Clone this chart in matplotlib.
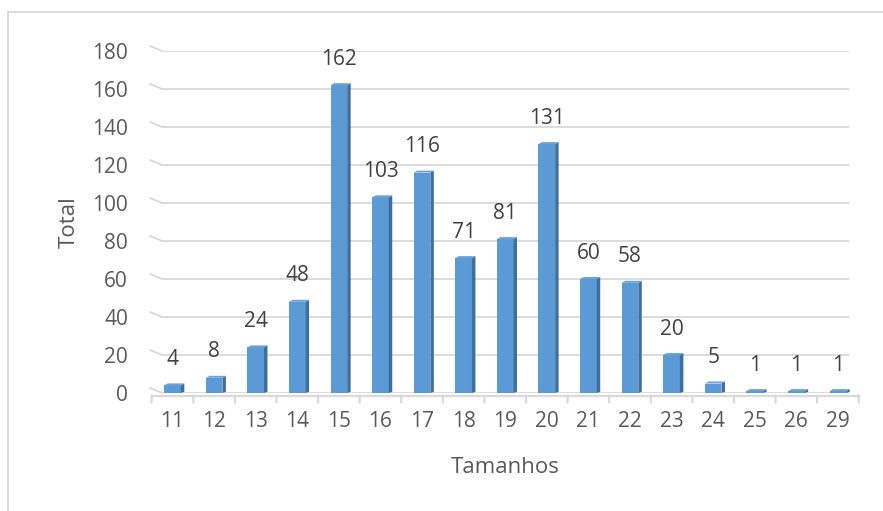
import matplotlib.pyplot as plt
import matplotlib.transforms as mtransforms
from matplotlib.patches import Polygon
import numpy as np

# Dados
tamanhos = ['11', '12', '13', '14', '15', '16', '17', '18', '19', '20',
            '21', '22', '23', '24', '25', '26', '29']
totais = [4, 8, 24, 48, 162, 103, 116, 71, 81, 131, 60, 58, 20, 5, 1, 1, 1]
y_ticks = [0, 20, 40, 60, 80, 100, 120, 140, 160, 180]

plt.rcParams['font.family'] = ['Open Sans', 'DejaVu Sans']

cor_frente = '#5B9BD5'
cor_lado = '#3F6F9E'
cor_topo = '#68A3D9'
cor_texto = '#595959'
cor_grade = '#D9D9D9'

fig = plt.figure(figsize=(8.83, 5.11), dpi=100)
ax = fig.add_axes([0.1718, 0.2309, 0.8007, 0.6693])

x = np.arange(len(tamanhos))
largura = 0.40
ax.set_xlim(-0.5, len(tamanhos) - 0.5)
ax.set_ylim(0, 180)

# Grade (parede do fundo) com pequeno trecho inclinado à esquerda
for v in y_ticks:
    ax.plot([-0.25, 16.26], [v, v], color=cor_grade, lw=1.3, zorder=1,
            solid_capstyle='butt')
    ax.annotate('', xy=(-0.25, v), xycoords='data',
                xytext=(-12, 5), textcoords='offset pixels',
                arrowprops=dict(arrowstyle='-', color=cor_grade, lw=1.3,
                                shrinkA=0, shrinkB=0))

# Borda frontal do piso e marcas entre categorias
piso = mtransforms.offset_copy(ax.transData, fig=fig, x=0, y=-1.8,
                               units='points')
ax.plot([-0.5, len(tamanhos) - 0.5], [0, 0], color=cor_grade, lw=1.6,
        transform=piso, zorder=1, clip_on=False)
for b in np.arange(-0.5, len(tamanhos), 1.0):
    ax.annotate('', xy=(b, 0), xycoords=piso,
                xytext=(0, -7), textcoords='offset pixels',
                arrowprops=dict(arrowstyle='-', color=cor_grade, lw=1.6,
                                shrinkA=0, shrinkB=0), annotation_clip=False)

# Barras com face lateral e topo (efeito 3D)
ax.bar(x, totais, width=largura, color=cor_frente, zorder=3)
prof = 3.5 / 41.6
prof_y = 2 / 1.9
for xi, v in zip(x, totais):
    x0 = xi + largura / 2
    lado = Polygon([(x0, 0), (x0 + prof, prof_y * 0.6), (x0 + prof, v + prof_y),
                    (x0, v)], closed=True, color=cor_lado, zorder=3, lw=0)
    topo = Polygon([(xi - largura / 2, v), (x0, v), (x0 + prof, v + prof_y),
                    (xi - largura / 2 + prof, v + prof_y)], closed=True,
                   color=cor_topo, zorder=3, lw=0)
    ax.add_patch(lado)
    ax.add_patch(topo)
    ax.annotate(str(v), xy=(xi, v), xytext=(0, 26), textcoords='offset pixels',
                ha='center', va='center', fontsize=15, color='#404040')

ax.set_xticks(x)
ax.set_xticklabels(tamanhos)
ax.set_yticks(y_ticks)
ax.tick_params(axis='both', length=0, labelsize=15, labelcolor=cor_texto)
ax.tick_params(axis='y', pad=17)
ax.tick_params(axis='x', pad=13)
for s in ax.spines.values():
    s.set_visible(False)

ax.set_xlabel('Tamanhos', fontsize=16, color=cor_texto, labelpad=18)
ax.set_ylabel('Total', fontsize=16, color=cor_texto, labelpad=9)

# Borda do gráfico (esquerda e topo)
fig.add_artist(plt.Line2D([8 / 883, 8 / 883], [0, 1 - 12 / 511],
                          transform=fig.transFigure, color='#D9D9D9', lw=1.3))
fig.add_artist(plt.Line2D([8 / 883, 1], [1 - 12 / 511, 1 - 12 / 511],
                          transform=fig.transFigure, color='#D9D9D9', lw=1.3))

fig.savefig('out.png', dpi=100, facecolor='white')
